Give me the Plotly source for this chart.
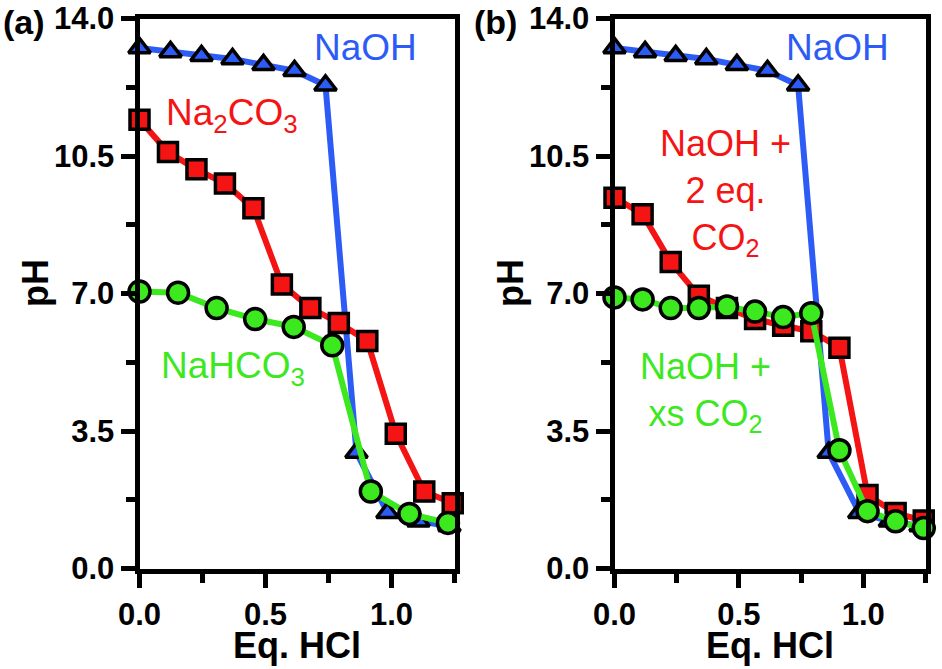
import plotly.graph_objects as go

# ---- data ----
naoh_x = [0, 0.123, 0.246, 0.369, 0.492, 0.615, 0.738, 0.861, 0.984, 1.107, 1.23]
naoh_y = [13.25, 13.15, 13.05, 12.97, 12.82, 12.67, 12.3, 2.95, 1.42, 1.2, 1.08]

na2co3_x = [0, 0.113, 0.226, 0.339, 0.452, 0.565, 0.678, 0.791, 0.904, 1.017, 1.13, 1.243]
na2co3_y = [11.42, 10.6, 10.16, 9.8, 9.17, 7.23, 6.63, 6.25, 5.79, 3.43, 1.96, 1.66]

nahco3_x = [0, 0.153, 0.306, 0.459, 0.612, 0.765, 0.918, 1.071, 1.224]
nahco3_y = [7.05, 7.02, 6.63, 6.35, 6.15, 5.68, 1.96, 1.39, 1.16]

co2_2eq_x = [0, 0.113, 0.226, 0.339, 0.452, 0.565, 0.678, 0.791, 0.904, 1.017, 1.13, 1.243]
co2_2eq_y = [9.44, 9.02, 7.8, 6.94, 6.63, 6.35, 6.18, 6.04, 5.62, 1.87, 1.41, 1.22]

co2_xs_x = [0, 0.113, 0.226, 0.339, 0.452, 0.565, 0.678, 0.791, 0.904, 1.017, 1.13, 1.243]
co2_xs_y = [6.9, 6.85, 6.63, 6.63, 6.67, 6.54, 6.4, 6.5, 3.01, 1.46, 1.2, 1.03]

x_ticks = [0.0, 0.5, 1.0]
y_ticks = [0.0, 3.5, 7.0, 10.5, 14.0]

BLUE = "#2D5BF5"
RED = "#F51414"
GREEN = "#3CE81E"
FONT = "Liberation Sans"

fig = go.Figure()


def add_series(x, y, color, symbol, size, xa, ya):
    fig.add_trace(go.Scatter(
        x=x, y=y, mode="lines+markers", xaxis=xa, yaxis=ya,
        line=dict(color=color, width=6),
        marker=dict(symbol=symbol, size=size, color=color,
                    line=dict(color="black", width=3.5)),
        cliponaxis=False, showlegend=False, hoverinfo="skip"))


# panel a
add_series(naoh_x, naoh_y, BLUE, "triangle-up", 19, "x", "y")
add_series(na2co3_x, na2co3_y, RED, "square", 19, "x", "y")
add_series(nahco3_x, nahco3_y, GREEN, "circle", 21, "x", "y")
# panel b
add_series(naoh_x, naoh_y, BLUE, "triangle-up", 19, "x2", "y2")
add_series(co2_2eq_x, co2_2eq_y, RED, "square", 19, "x2", "y2")
add_series(co2_xs_x, co2_xs_y, GREEN, "circle", 21, "x2", "y2")

W, H = 942, 669


def fx(px):
    return px / W


def fy(py):
    return (H - py) / H


tickfont = dict(family=FONT, size=31, color="black", weight="bold")
xax = dict(range=[0, 1.25], tickvals=x_ticks, ticktext=["0.0", "0.5", "1.0"],
           showline=True, linewidth=5, linecolor="black", mirror=True,
           ticks="outside", ticklen=14, tickwidth=5, tickcolor="black",
           minor=dict(dtick=0.25, ticks="outside", ticklen=9, tickwidth=5, tickcolor="black"),
           showgrid=False, zeroline=False, tickfont=tickfont, fixedrange=True,
           automargin=False)
yax = dict(range=[0, 14], tickvals=y_ticks, ticktext=["0.0", "3.5", "7.0", "10.5", "14.0"],
           showline=True, linewidth=5, linecolor="black", mirror=True,
           ticks="outside", ticklen=14, tickwidth=5, tickcolor="black",
           minor=dict(dtick=1.75, ticks="outside", ticklen=9, tickwidth=5, tickcolor="black"),
           showgrid=False, zeroline=False, tickfont=tickfont, fixedrange=True,
           automargin=False)

ydom = [fy(568.5), fy(18.5)]
fig.update_layout(
    width=W, height=H,
    margin=dict(l=0, r=0, t=0, b=0),
    paper_bgcolor="white", plot_bgcolor="white",
    xaxis=dict(xax, domain=[fx(139.5), fx(454.5)], anchor="y"),
    yaxis=dict(yax, domain=ydom, anchor="x"),
    xaxis2=dict(xax, domain=[fx(614.5), fx(925.5)], anchor="y2"),
    yaxis2=dict(yax, domain=ydom, anchor="x2"),
)

ann = []


def text(px, py, s, color, size=37, bold=False, angle=0, xanchor="center"):
    ann.append(dict(x=fx(px), y=fy(py), xref="paper", yref="paper", text=s,
                    showarrow=False, xanchor=xanchor, yanchor="middle", textangle=angle,
                    font=dict(family=FONT, size=size, color=color,
                              weight="bold" if bold else "normal")))


# panel labels
text(24, 22, "(a)", "black", size=34, bold=True)
text(495, 22, "(b)", "black", size=34, bold=True)
# axis titles
for cx in (297, 770):
    text(cx, 645, "Eq. HCl", "black", size=36, bold=True)
for cx in (35, 510):
    text(cx, 283, "pH", "black", size=36, bold=True, angle=-90)

# series labels, panel a
text(365, 48, "NaOH", BLUE)
text(232, 115, "Na<sub>2</sub>CO<sub>3</sub>", RED)
text(233, 368, "NaHCO<sub>3</sub>", GREEN)
# panel b
text(837, 48, "NaOH", BLUE)
text(725, 192, "NaOH +<br>2 eq.<br>CO<sub>2</sub>", RED, size=36)
text(705, 392, "NaOH +<br>xs CO<sub>2</sub>", GREEN, size=36)

fig.update_layout(annotations=ann)

fig.write_html("out.html", config={"displayModeBar": False},
               post_script="document.body.style.margin='0';document.body.style.overflow='hidden';")
